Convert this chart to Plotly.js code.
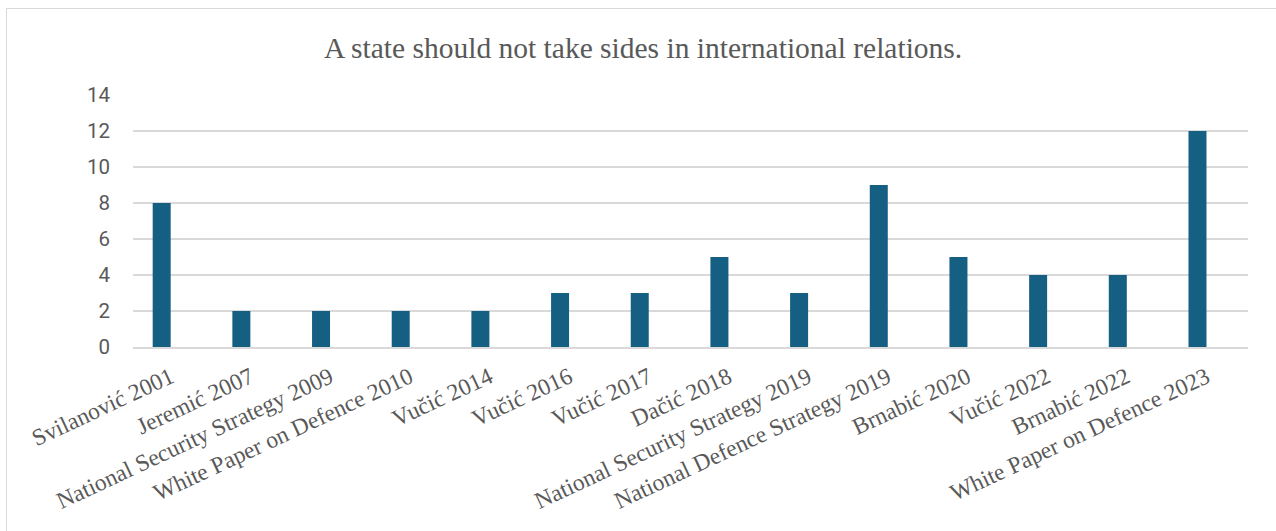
<!DOCTYPE html>
<html>
<head>
<meta charset="utf-8">
<script src="https://cdn.plot.ly/plotly-3.0.1.min.js"></script>
<style>
html,body{margin:0;padding:0;background:#fff;}
#wrap{position:relative;width:1276px;height:531px;overflow:hidden;}
#chart{width:1276px;height:531px;}
#frame{position:absolute;left:6px;top:8px;width:1300px;height:600px;border-left:1.5px solid #d9d9d9;border-top:1.5px solid #d9d9d9;pointer-events:none;box-sizing:border-box;}
</style>
</head>
<body>
<div id="wrap">
<div id="chart"></div>
<div id="frame"></div>
</div>
<script>
const categories = [
  "Svilanović 2001",
  "Jeremić 2007",
  "National Security Strategy 2009",
  "White Paper on Defence 2010",
  "Vučić 2014",
  "Vučić 2016",
  "Vučić 2017",
  "Dačić 2018",
  "National Security Strategy 2019",
  "National Defence Strategy 2019",
  "Brnabić 2020",
  "Vučić 2022",
  "Brnabić 2022",
  "White Paper on Defence 2023"
];
const values = [8, 2, 2, 2, 2, 3, 3, 5, 3, 9, 5, 4, 4, 12];
const yTicks = [0, 2, 4, 6, 8, 10, 12, 14];
const chartTitle = "A state should not take sides in international relations.";

const trace = {
  type: "bar",
  x: categories,
  y: values,
  marker: {color: "#156082"},
  width: 0.226,
  hoverinfo: "x+y"
};

const layout = {
  width: 1276,
  height: 531,
  margin: {l: 133, r: 28, t: 95, b: 184},
  paper_bgcolor: "#ffffff",
  plot_bgcolor: "#ffffff",
  showlegend: false,
  title: {
    text: chartTitle,
    font: {family: "Liberation Serif, Times New Roman, serif", size: 29.5, color: "#595959"},
    x: 0.504, xref: "container", xanchor: "center",
    y: 48, yref: "container", yanchor: "middle"
  },
  xaxis: {
    type: "category",
    range: [-0.36, 13.634],
    tickangle: -25,
    tickfont: {family: "Liberation Serif, Times New Roman, serif", size: 23.5, color: "#595959"},
    showgrid: false,
    showline: true,
    linecolor: "#d9d9d9",
    linewidth: 1.5,
    ticks: "",
    ticklabelshift: 9,
    ticklabelstandoff: 6,
    automargin: false
  },
  yaxis: {
    range: [0, 14],
    tickvals: yTicks,
    tickfont: {family: "Roboto, Open Sans, sans-serif", size: 20.5, color: "#595959"},
    showgrid: true,
    gridcolor: "#d9d9d9",
    gridwidth: 1.5,
    zeroline: false,
    showline: false,
    ticks: "",
    ticklabelstandoff: 22,
    automargin: false
  }
};

Plotly.newPlot("chart", [trace], layout, {displayModeBar: false, staticPlot: true});
</script>
</body>
</html>
